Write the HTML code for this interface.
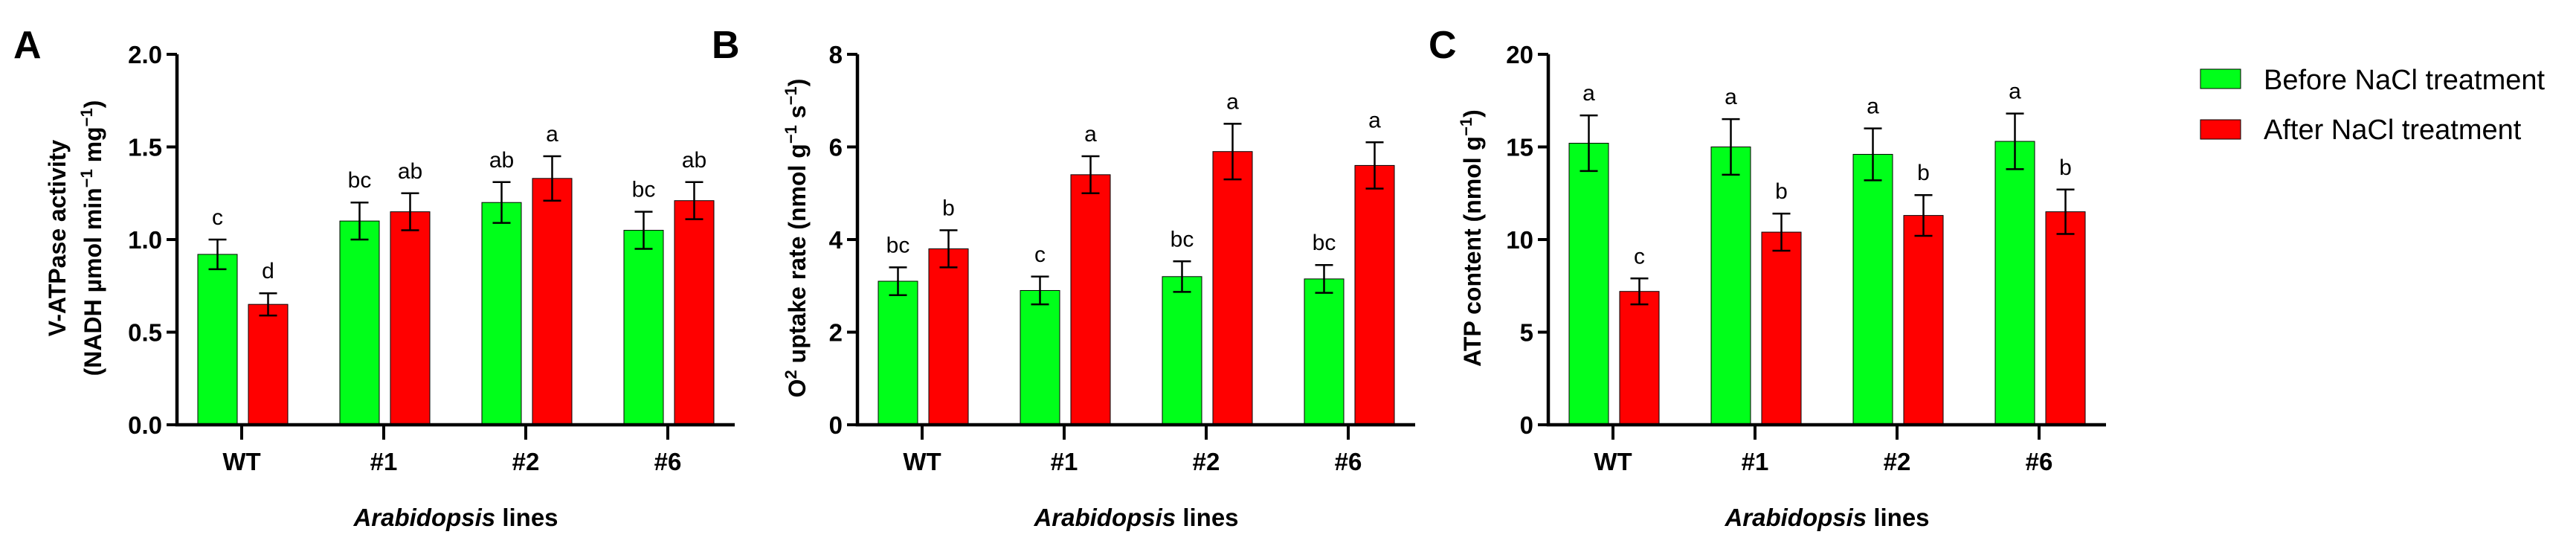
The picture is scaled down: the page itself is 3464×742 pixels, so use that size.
<!DOCTYPE html>
<html><head><meta charset="utf-8"><style>
html,body{margin:0;padding:0;background:#fff;}
svg{display:block;font-family:"Liberation Sans",Arial,sans-serif;}
</style></head><body>
<svg id="fig" width="3464" height="742" viewBox="0 0 3464 742" xmlns="http://www.w3.org/2000/svg">
<text x="18" y="78" font-size="52" font-weight="bold">A</text>
<text x="957" y="78" font-size="52" font-weight="bold">B</text>
<text x="1921" y="78" font-size="52" font-weight="bold">C</text>
<g>
<rect x="2959" y="93" width="54" height="26" fill="#00ff1a" stroke="#000" stroke-width="1"/>
<text x="3044" y="120" font-size="38">Before NaCl treatment</text>
<rect x="2959" y="161" width="54" height="26" fill="#ff0000" stroke="#000" stroke-width="1"/>
<text x="3044" y="187" font-size="38">After NaCl treatment</text>
</g>
</svg>
<script>
const categories = ["WT", "#1", "#2", "#6"];
const aBefore = [0.92, 1.10, 1.20, 1.05];
const aBeforeErr = [0.08, 0.10, 0.11, 0.10];
const aAfter = [0.65, 1.15, 1.33, 1.21];
const aAfterErr = [0.06, 0.10, 0.12, 0.10];
const aBeforeLetters = ["c", "bc", "ab", "bc"];
const aAfterLetters = ["d", "ab", "a", "ab"];
const aTicks = ["0.0", "0.5", "1.0", "1.5", "2.0"];
const bBefore = [3.1, 2.9, 3.2, 3.15];
const bBeforeErr = [0.3, 0.3, 0.33, 0.3];
const bAfter = [3.8, 5.4, 5.9, 5.6];
const bAfterErr = [0.4, 0.4, 0.6, 0.5];
const bBeforeLetters = ["bc", "c", "bc", "bc"];
const bAfterLetters = ["b", "a", "a", "a"];
const bTicks = ["0", "2", "4", "6", "8"];
const cBefore = [15.2, 15.0, 14.6, 15.3];
const cBeforeErr = [1.5, 1.5, 1.4, 1.5];
const cAfter = [7.2, 10.4, 11.3, 11.5];
const cAfterErr = [0.7, 1.0, 1.1, 1.2];
const cBeforeLetters = ["a", "a", "a", "a"];
const cAfterLetters = ["c", "b", "b", "b"];
const cTicks = ["0", "5", "10", "15", "20"];

const NS = "http://www.w3.org/2000/svg";
const svg = document.getElementById("fig");
function mk(tag, attrs, parent) {
  const e = document.createElementNS(NS, tag);
  for (const k in attrs) e.setAttribute(k, attrs[k]);
  (parent || svg).appendChild(e);
  return e;
}
const Y0 = 571, Y1 = 73;

function panel(id, ax, ymax, ticks, g1, e1, g2, e2, l1, l2, titleLines, titleX) {
  const g = mk("g", {});
  
  
  const y = v => Y0 - (v / ymax) * (Y0 - Y1);
  const xc = i => ax + 87 + i * 191;
  // bars
  [[g1, e1, l1, "#00ff1a", -59, "before"], [g2, e2, l2, "#ff0000", 9, "after"]].forEach(([vals, errs, lets, col, off, nm]) => {
    vals.forEach((v, i) => {
      const r = mk("rect", {x: xc(i) + off, y: y(v), width: 53, height: Y0 - y(v), fill: col, stroke: "#000", "stroke-width": 1}, g);
      
      
      const cx = xc(i) + off + 26.5;
      const top = y(v + errs[i]), bot = y(v - errs[i]);
      const eb = mk("path", {d: `M${cx},${top}V${bot}M${cx-12},${top}H${cx+12}M${cx-12},${bot}H${cx+12}`, stroke: "#000", "stroke-width": 2.5, fill: "none"}, g);
      
      
      const t = mk("text", {x: cx, y: top - 20, "font-size": 30, "text-anchor": "middle"}, g);
      t.textContent = lets[i];
      
      
    });
  });
  // axes
  const axl = mk("path", {d: `M${ax},${Y1}V${Y0}H${ax+750}`, stroke: "#000", "stroke-width": 4.5, fill: "none"}, g);
  
  
  ticks.forEach((t, i) => {
    const v = ymax * i / (ticks.length - 1);
    mk("line", {x1: ax - 14, x2: ax, y1: y(v), y2: y(v), stroke: "#000", "stroke-width": 4}, g);
    const tx = mk("text", {x: ax - 20, y: y(v) + 12, "font-size": 33, "font-weight": "bold", "text-anchor": "end"}, g);
    tx.textContent = t;
    
    
  });
  categories.forEach((c, i) => {
    mk("line", {x1: xc(i), x2: xc(i), y1: Y0, y2: Y0 + 20, stroke: "#000", "stroke-width": 4}, g);
    const tx = mk("text", {x: xc(i), y: 632, "font-size": 33, "font-weight": "bold", "text-anchor": "middle"}, g);
    tx.textContent = c;
    
    
  });
  const xt = mk("text", {x: ax + 375, y: 707, "font-size": 33, "font-weight": "bold", "text-anchor": "middle"}, g);
  xt.innerHTML = '<tspan font-style="italic">Arabidopsis</tspan> lines';
  
  
  titleLines.forEach((ln, k) => {
    const yt = mk("text", {transform: `translate(${titleX[k]},320) rotate(-90)`, "font-size": 32, "font-weight": "bold", "text-anchor": "middle"}, g);
    yt.innerHTML = ln;
    
    
  });
}
const sup = s => `<tspan dy="-12" font-size="22">${s}</tspan><tspan dy="12"> </tspan>`;
panel("a", 238, 2, aTicks, aBefore, aBeforeErr, aAfter, aAfterErr, aBeforeLetters, aAfterLetters,
  ["V-ATPase activity", `(NADH µmol min${sup("−1")}mg<tspan dy="-12" font-size="22">−1</tspan><tspan dy="12">)</tspan>`], [88, 136]);
panel("b", 1153, 8, bTicks, bBefore, bBeforeErr, bAfter, bAfterErr, bBeforeLetters, bAfterLetters,
  [`O<tspan dy="-12" font-size="22">2</tspan><tspan dy="12"> uptake rate (nmol g</tspan><tspan dy="-12" font-size="22">−1</tspan><tspan dy="12"> s</tspan><tspan dy="-12" font-size="22">−1</tspan><tspan dy="12">)</tspan>`], [1083]);
panel("c", 2082, 20, cTicks, cBefore, cBeforeErr, cAfter, cAfterErr, cBeforeLetters, cAfterLetters,
  [`ATP content (nmol g<tspan dy="-12" font-size="22">−1</tspan><tspan dy="12">)</tspan>`], [1991]);
</script>
</body></html>
